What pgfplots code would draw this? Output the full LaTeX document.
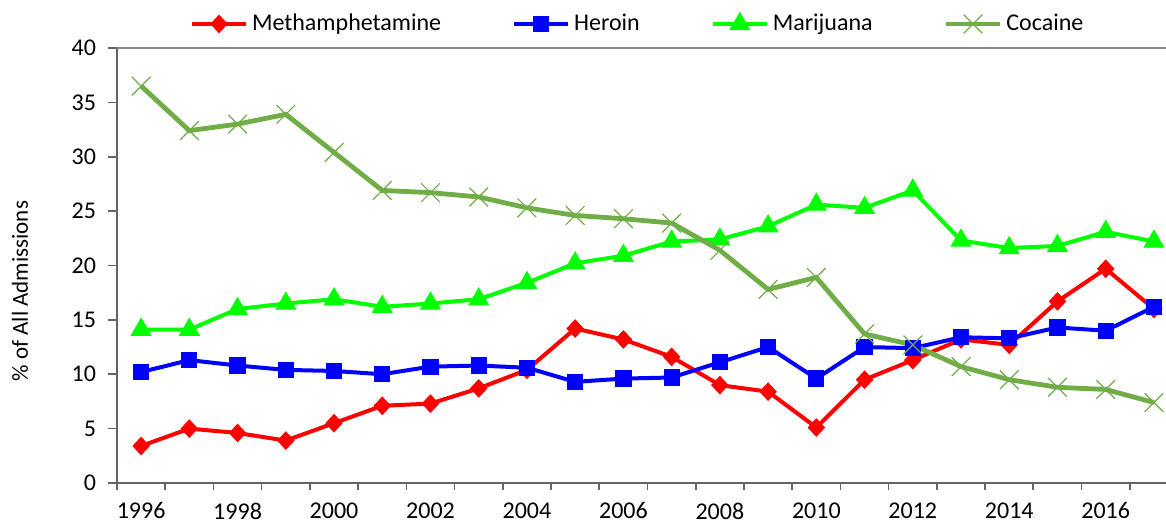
\documentclass[border=0pt]{standalone}
\usepackage{fontspec}
\setmainfont{Carlito}
\usepackage{pgfplots}
\usepackage{pgfplotstable}
\pgfplotsset{compat=1.18}
\definecolor{meth}{RGB}{255,0,0}
\definecolor{her}{RGB}{0,0,255}
\definecolor{mj}{RGB}{0,255,0}
\definecolor{coke}{RGB}{112,173,71}
\definecolor{axgray}{RGB}{100,100,100}
\definecolor{topgray}{RGB}{134,134,134}
\pgfplotstableread{
year meth heroin mj coke
1996 3.4 10.2 14.1 36.5
1997 5.0 11.3 14.1 32.4
1998 4.6 10.8 16.0 33.0
1999 3.9 10.4 16.5 33.9
2000 5.5 10.3 16.9 30.4
2001 7.1 10.0 16.2 26.9
2002 7.3 10.7 16.5 26.7
2003 8.7 10.8 16.9 26.3
2004 10.4 10.6 18.4 25.3
2005 14.2 9.3 20.2 24.6
2006 13.2 9.6 20.9 24.3
2007 11.6 9.7 22.2 23.9
2008 9.0 11.1 22.4 21.4
2009 8.4 12.5 23.6 17.8
2010 5.1 9.6 25.6 18.9
2011 9.5 12.5 25.3 13.7
2012 11.3 12.4 26.9 12.7
2013 13.2 13.4 22.3 10.7
2014 12.7 13.3 21.6 9.5
2015 16.7 14.3 21.8 8.8
2016 19.7 14.0 23.1 8.6
2017 16.0 16.2 22.2 7.4
}\datatable
\begin{document}
\begin{tikzpicture}
\begin{axis}[
  scale only axis,
  width=524.5pt, height=217.5pt,
  xmin=1995.5, xmax=2017.25,
  ymin=0, ymax=40,
  axis x line*=bottom, axis y line*=left,
  axis line style={axgray, line width=0.8pt},
  ytick={0,5,...,40},
  xtick={1996,1998,...,2016},
  minor xtick={1995.5,1996.5,...,2016.5},
  x tick label style={/pgf/number format/1000 sep={}, yshift=-1.8pt},
  y tick label style={xshift=-2.5pt},
  tick align=outside,
  major tick length=4.5pt,
  minor tick length=3.5pt,
  major x tick style={draw=none},
  tick style={axgray, line width=0.8pt},
  /pgf/number format/assume math mode=true,
  tick label style={font=\fontsize{12}{14}\selectfont},
  extra y ticks={40},
  extra y tick labels={},
  extra y tick style={grid=major, major grid style={topgray, line width=0.8pt}, tick style={draw=none}},
  ylabel={\% of All Admissions},
  ylabel style={font=\fontsize{11.5}{14}\selectfont, at={(axis description cs:-0.0925,0.441)}, anchor=center, rotate=0},
  legend columns=4,
  legend style={draw=none, fill=none, at={(0.0696,1.0552)}, anchor=west,
    inner sep=0pt, outer sep=0pt,
    font=\fontsize{12}{14}\selectfont,
    nodes={inner sep=1pt},
    /tikz/every odd column/.style={column sep=1pt},
    /tikz/every even column/.style={column sep=34.5pt}},
  legend image code/.code={\draw[mark repeat=2,mark phase=2] plot coordinates {(0pt,0pt) (13.5pt,0pt) (27pt,0pt)};},
]
\addplot[meth, line width=2pt, mark=diamond*, mark size=4.3pt, mark options={solid, line width=0.5pt, xscale=1.25}] table[x=year, y=meth] {\datatable};
\addlegendentry{Methamphetamine}
\addplot[her, line width=2pt, mark=square*, mark size=3.8pt, mark options={solid, line width=0.5pt}] table[x=year, y=heroin] {\datatable};
\addlegendentry{Heroin}
\addplot[mj, line width=2pt, mark=triangle*, mark size=5.6pt, mark options={solid, line width=0.5pt}] table[x=year, y=mj] {\datatable};
\addlegendentry{Marijuana}
\addplot[coke, line width=2.4pt, mark=x, mark size=6.6pt, mark options={solid, line width=0.6pt}] table[x=year, y=coke] {\datatable};
\addlegendentry{Cocaine}
\end{axis}
\pgfresetboundingbox
\path ([xshift=-58.5pt, yshift=-19.5pt]current axis.south west) rectangle ([yshift=24pt]current axis.north east);
\end{tikzpicture}
\end{document}
